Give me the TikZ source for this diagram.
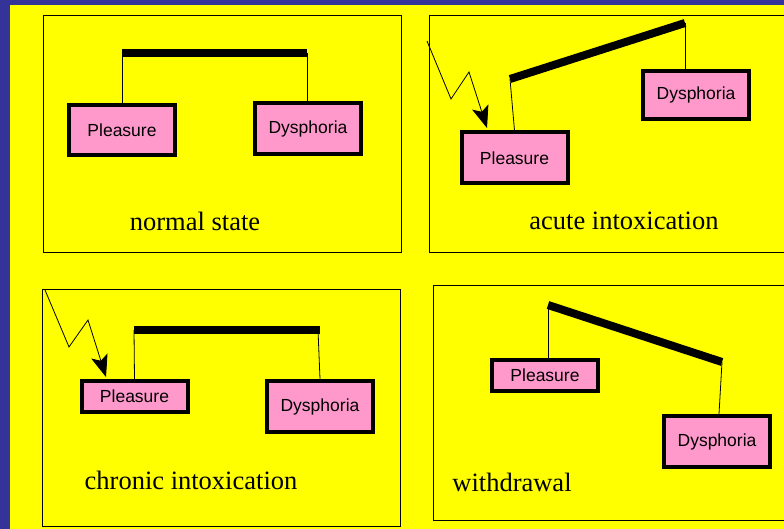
\documentclass[tikz,border=0pt]{standalone}
\usepackage{fontspec}
\setmainfont{Liberation Serif}
\setsansfont{Liberation Sans}
\usetikzlibrary{arrows.meta}
\definecolor{slideblue}{RGB}{51,51,153}
\definecolor{slideyellow}{RGB}{255,255,0}
\definecolor{weightpink}{RGB}{255,153,204}

\begin{document}
\begin{tikzpicture}[x=1pt, y=-1pt,
    panel/.style={draw=black, line width=0.8pt},
    weight/.style={draw=black, line width=4pt, fill=weightpink, inner sep=0pt,
                   minimum width=106pt, minimum height=51pt,
                   font=\sffamily\fontsize{17.5}{20}\selectfont},
    flatweight/.style={weight, minimum height=31pt},
    beam/.style={line width=8pt, line cap=butt},
    string/.style={line width=0.8pt},
    jolt/.style={line width=0.8pt, -{Stealth[length=22pt, width=17pt, inset=5pt]}},
    caption/.style={font=\rmfamily\fontsize{26.5}{30}\selectfont}
]
    \useasboundingbox (0,0) rectangle (784,529);
    \fill[slideblue] (0,0) rectangle (784,529);
    \fill[slideyellow] (10,5) rectangle (784,529);

    % Panels
    \draw[panel] (43,15) rectangle (401,252);
    \draw[panel] (429,15) rectangle (786,252);
    \draw[panel] (42,289) rectangle (400,526);
    \draw[panel] (433,285) rectangle (786,520);

    % Normal state
    \node[weight, minimum height=50pt] (p1) at (122,130)   {Pleasure};
    \node[weight] (d1) at (308,128.5) {Dysphoria};
    \coordinate (b1l) at (122,53);
    \coordinate (b1r) at (307,53);
    \draw[beam] (b1l) -- (b1r);
    \draw[string] (b1l) -- (b1l |- p1.north);
    \draw[string] (b1r) -- (b1r |- d1.north);
    \node[caption] (c1) at (195,221) {normal state};

    % Acute intoxication
    \node[weight] (p2) at (514.5,158) {Pleasure};
    \node[weight, minimum height=48pt] (d2) at (696,95) {Dysphoria};
    \coordinate (b2l) at (510,79);
    \coordinate (b2r) at (685,23);
    \draw[beam] (b2l) -- (b2r);
    \draw[string] (b2l) -- (p2.north);
    \draw[string] (b2r) -- (b2r |- d2.north);
    \coordinate (z2s) at (427,41);
    \coordinate (z2a) at (451,99);
    \coordinate (z2b) at (469,72);
    \coordinate (z2t) at (487,128);
    \draw[jolt] (z2s) -- (z2a) -- (z2b) -- (z2t);
    \node[caption] (c2) at (624,221) {acute intoxication};

    % Chronic intoxication
    \node[flatweight] (p3) at (134.5,396.5) {Pleasure};
    \node[weight] (d3) at (320,406.5) {Dysphoria};
    \coordinate (b3l) at (134,330);
    \coordinate (b3r) at (320,330);
    \draw[beam] (b3l) -- (b3r);
    \draw[string] (b3l) -- (p3.north);
    \draw[string] (b3r) ++(-2,0) -- (d3.north);
    \coordinate (z3s) at (45,290);
    \coordinate (z3a) at (69,347);
    \coordinate (z3b) at (88,320);
    \coordinate (z3t) at (106,377);
    \draw[jolt] (z3s) -- (z3a) -- (z3b) -- (z3t);
    \node[caption] (c3) at (191,480) {chronic intoxication};

    % Withdrawal
    \node[flatweight] (p4) at (545,375.5) {Pleasure};
    \node[weight] (d4) at (717,441.5) {Dysphoria};
    \coordinate (b4l) at (548,305);
    \coordinate (b4r) at (722,362);
    \draw[beam] (b4l) -- (b4r);
    \draw[string] (b4l) -- (b4l |- p4.north);
    \draw[string] (b4r) -- ([xshift=2pt]d4.north);
    \node[caption] (c4) at (512,482) {withdrawal};
\end{tikzpicture}
\end{document}
